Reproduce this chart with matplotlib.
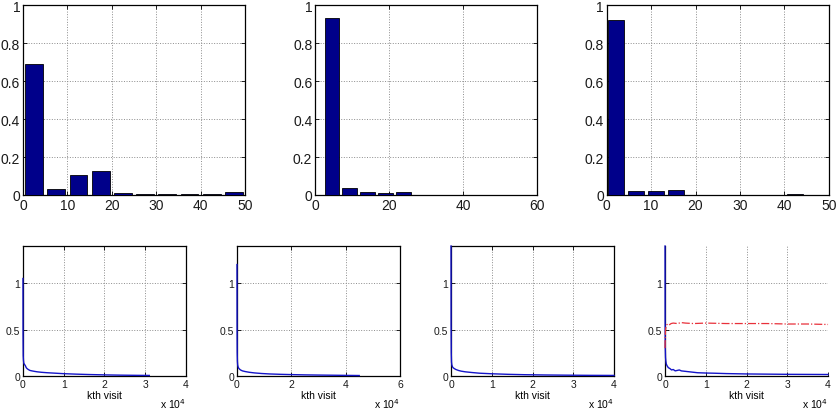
import numpy as np
import matplotlib
matplotlib.use("Agg")
import matplotlib.pyplot as plt

plt.rcParams["font.family"] = ["Liberation Sans", "DejaVu Sans"]

# top row: histogram bin centres and relative frequencies
hist1_centers = [2.5, 7.5, 12.5, 17.5, 22.5, 27.5, 32.5, 37.5, 42.5, 47.5]
hist1_values = [0.688, 0.033, 0.104, 0.128, 0.012, 0.007, 0.007, 0.003, 0.003, 0.016]

hist2_centers = [4.5, 9.35, 14.2, 19.05, 23.9, 28.75, 33.6, 38.45, 43.3, 48.15]
hist2_values = [0.930, 0.037, 0.018, 0.011, 0.016, 0.002, 0.001, 0.001, 0.001, 0.001]

hist3_centers = [2.2, 6.67, 11.14, 15.61, 20.08, 24.55, 29.02, 33.49, 37.96, 42.43]
hist3_values = [0.923, 0.019, 0.023, 0.026, 0.002, 0.001, 0.001, 0.001, 0.001, 0.003]

hist_bar_width = [4.0, 3.9, 3.6]
hist_xlims = [50, 60, 50]

# bottom row: value vs kth visit
visits1 = [0, 20, 60, 120, 200, 300, 450, 600, 800, 1000, 1300, 1700, 2200, 2800,
           3500, 4500, 6000, 8000, 10000, 13000, 16000, 20000, 24000, 28000, 31000]
curve1 = [1.05, 0.45, 0.22, 0.17, 0.14, 0.13, 0.12, 0.11, 0.09, 0.08, 0.07, 0.06, 0.055, 0.05,
          0.045, 0.04, 0.035, 0.03, 0.025, 0.02, 0.016, 0.012, 0.009, 0.007, 0.006]

visits2 = [0, 30, 80, 150, 250, 400, 600, 900, 1300, 2000, 3000, 4500, 6500, 9000,
           12000, 16000, 20000, 25000, 30000, 36000, 42000, 45000]
curve2 = [1.2, 0.5, 0.25, 0.16, 0.12, 0.1, 0.085, 0.075, 0.065, 0.055, 0.048, 0.04, 0.033, 0.027,
          0.022, 0.018, 0.015, 0.012, 0.01, 0.008, 0.006, 0.005]

visits3 = [0, 20, 60, 120, 200, 350, 500, 800, 1200, 1800, 2500, 3500, 5000, 7000,
           10000, 14000, 18000, 23000, 28000, 34000, 40000]
curve3 = [1.4, 0.55, 0.25, 0.15, 0.12, 0.1, 0.09, 0.08, 0.07, 0.06, 0.052, 0.045, 0.038, 0.03,
          0.024, 0.018, 0.014, 0.011, 0.009, 0.007, 0.006]

visits4 = [0, 20, 60, 120, 200, 300, 500, 800, 1200, 1600, 2000, 2500, 3000, 3500, 4000,
           5000, 6000, 7000, 8000, 10000, 12000, 15000, 20000, 25000, 30000, 35000, 40000]
curve4_blue = [1.4, 0.6, 0.3, 0.2, 0.16, 0.13, 0.11, 0.09, 0.08, 0.065, 0.07, 0.055, 0.06, 0.065,
               0.055, 0.05, 0.045, 0.04, 0.035, 0.032, 0.03, 0.026, 0.022, 0.02, 0.018, 0.017, 0.016]

visits4_red = [0, 50, 100, 200, 400, 700, 1000, 1500, 2000, 3000, 4000, 5000, 7000, 10000,
               15000, 20000, 25000, 30000, 35000, 40000]
curve4_red = [0.3, 0.42, 0.48, 0.52, 0.55, 0.56, 0.55, 0.565, 0.57, 0.565, 0.575, 0.57, 0.565,
              0.57, 0.565, 0.565, 0.565, 0.56, 0.56, 0.555]

line_xmax = [4, 6, 4, 4]  # in units of 10^4


def style_axes(ax, size, box=True):
    ax.tick_params(direction="in", length=3, width=0.6, labelsize=size,
                   top=box, right=box, pad=2, labelcolor="0.1")
    ax.grid(True, linestyle=":", color="0.55", linewidth=0.7)
    for side in ["top", "right"]:
        ax.spines[side].set_visible(box)
    for sp in ax.spines.values():
        sp.set_linewidth(0.9)


fig = plt.figure(figsize=(8.38, 4.10), dpi=100)

top_lefts = [0.0274, 0.376, 0.724]
hist_data = [(hist1_centers, hist1_values), (hist2_centers, hist2_values),
             (hist3_centers, hist3_values)]
for i, (centers, values) in enumerate(hist_data):
    ax = fig.add_axes([top_lefts[i], 0.522, 0.265, 0.463])
    ax.bar(centers, values, width=hist_bar_width[i], color="#00008a",
           edgecolor="black", linewidth=0.6, zorder=3)
    ax.set_xlim(0, hist_xlims[i])
    ax.set_ylim(0, 1)
    ax.set_yticks([0, 0.2, 0.4, 0.6, 0.8, 1])
    ax.set_yticklabels(["0", "0.2", "0.4", "0.6", "0.8", "1"])
    if hist_xlims[i] == 60:
        ax.set_xticks([0, 20, 40, 60])
    else:
        ax.set_xticks([0, 10, 20, 30, 40, 50])
    style_axes(ax, 10)

bottom_lefts = [0.0274, 0.2828, 0.5382, 0.7936]
line_data = [(visits1, curve1), (visits2, curve2), (visits3, curve3), (visits4, curve4_blue)]
for i, (xs, ys) in enumerate(line_data):
    ax = fig.add_axes([bottom_lefts[i], 0.0805, 0.1945, 0.317])
    ax.plot(np.array(xs) / 1e4, ys, color="#1414c8", linewidth=1.0, zorder=4,
            clip_on=False)
    if i == 3:
        ax.plot(np.array(visits4_red) / 1e4, curve4_red, color="#e8303a",
                linestyle="-.", linewidth=0.9, zorder=4, clip_on=False)
    ax.set_xlim(0, line_xmax[i])
    ax.set_ylim(0, 1.4)
    ax.set_yticks([0, 0.5, 1])
    ax.set_yticklabels(["0", "0.5", "1"])
    ax.set_xticks(range(0, line_xmax[i] + 1, 1 if line_xmax[i] == 4 else 2))
    style_axes(ax, 7.5, box=(i != 3))
    ax.set_xlabel("kth visit", fontsize=7.5, labelpad=1)
    ax.text(1.0, -0.245, r"x 10$^{4}$", transform=ax.transAxes,
            ha="right", va="baseline", fontsize=7.5)

fig.savefig("out.png", dpi=100)
